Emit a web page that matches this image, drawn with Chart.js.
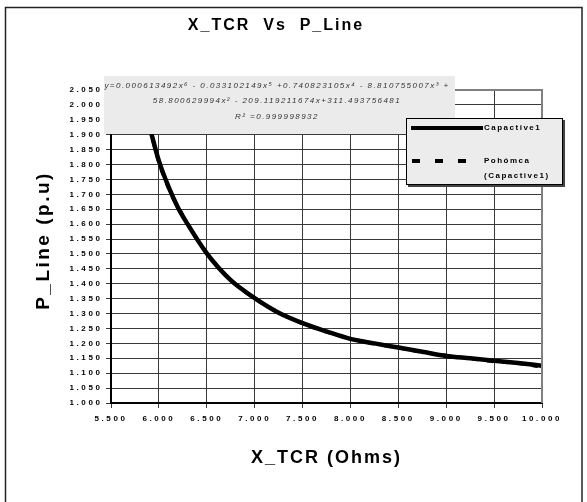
<!DOCTYPE html>
<html>
<head>
<meta charset="utf-8">
<script src="https://cdn.jsdelivr.net/npm/chart.js@4.4.1/dist/chart.umd.min.js"></script>
<style>
html,body{margin:0;padding:0;background:#fff;overflow:hidden}
#wrap{position:absolute;left:0;top:0;width:587px;height:502px}
</style>
</head>
<body>
<div id="wrap"><canvas id="c" width="587" height="502"></canvas></div>
<script>
// ---- data ----
const xTcr = [5.9, 6.0, 6.1, 6.2, 6.3, 6.5, 6.75, 7.0, 7.25, 7.5, 7.75, 8.0, 8.25, 8.5, 8.75, 9.0, 9.25, 9.5, 9.75, 10.0];
const capactive1 = [1.93, 1.812, 1.726, 1.655, 1.600, 1.502, 1.412, 1.352, 1.303, 1.268, 1.240, 1.215, 1.200, 1.186, 1.172, 1.158, 1.150, 1.142, 1.134, 1.125];
const polyTrend  = [1.93, 1.808, 1.722, 1.658, 1.601, 1.503, 1.413, 1.351, 1.304, 1.267, 1.239, 1.216, 1.199, 1.185, 1.171, 1.159, 1.149, 1.139, 1.133, 1.121];
const seriesNames = ['Capactive1', 'Pohómca (Capactive1)'];
const legendLines = [['Capactive1'], ['Pohómca', '(Capactive1)']];
const chartTitle = 'X_TCR  Vs  P_Line';
const xAxisTitle = 'X_TCR (Ohms)';
const yAxisTitle = 'P_Line (p.u)';
const trendEquation = [
  'y=0.000613492x\u2076 - 0.033102149x\u2075 +0.740823105x\u2074 - 8.810755007x\u00B3 +',
  '58.800629994x\u00B2 - 209.119211674x+311.493756481',
  'R\u00B2 =0.999998932'
];
const xMin = 5.5, xMax = 10, xStep = 0.5;
const yMin = 1.0, yMax = 2.05, yStep = 0.05;

const FONT = "'Liberation Sans', Arial, sans-serif";

function pts(ys){ return xTcr.map((x,i)=>({x:x, y:ys[i]})); }

const decor = {
  id: 'decor',
  beforeDraw(chart){
    const ctx = chart.ctx;
    // outer frame
    ctx.save();
    ctx.strokeStyle = '#222';
    ctx.lineWidth = 1.5;
    ctx.strokeRect(5.5, 7.5, 576.5, 520);
    ctx.restore();
    // letter spacing for texts drawn by the library
    const sx = chart.scales.x, sy = chart.scales.y;
    [[sx, '2.6px', '2px', 0], [sy, '2.6px', '2.5px', -6]].forEach(([s, ls, ts, shift])=>{
      if (s._patched) return;
      s._patched = true;
      const dl = s.drawLabels, dt = s.drawTitle;
      s.drawLabels = function(a){ const c=this.ctx; c.save(); c.letterSpacing=ls; dl.call(this,a); c.restore(); };
      s.drawTitle = function(a){ const c=this.ctx; c.save(); c.translate(0, shift); c.letterSpacing=ts; dt.call(this,a); c.restore(); };
    });
    const tb = chart.titleBlock;
    if (tb && !tb._patched){
      tb._patched = true;
      const d = tb.draw;
      tb.draw = function(a){ const c=this.ctx; c.save(); c.letterSpacing='2px'; d.call(this,a); c.restore(); };
    }
  },
  afterDraw(chart){
    const ctx = chart.ctx;
    const a = chart.chartArea;
    ctx.save();
    // grey top / right border of plot area
    ctx.strokeStyle = '#808080';
    ctx.lineWidth = 2;
    ctx.beginPath();
    ctx.moveTo(a.left, a.top); ctx.lineTo(a.right, a.top); ctx.lineTo(a.right, a.bottom);
    ctx.stroke();

    // equation box
    ctx.fillStyle = '#ebebeb';
    ctx.fillRect(104, 76, 351, 58);
    ctx.fillStyle = '#333';
    ctx.font = 'italic 8px ' + FONT;
    ctx.letterSpacing = '1.45px';
    ctx.textAlign = 'center';
    ctx.textBaseline = 'middle';
    const ey = [86, 101, 117];
    trendEquation.forEach((t,i)=>ctx.fillText(t, 277, ey[i]));

    // legend box
    ctx.letterSpacing = '0px';
    ctx.fillStyle = '#444';
    ctx.fillRect(408, 120, 157, 67);
    ctx.fillStyle = '#ececec';
    ctx.fillRect(406, 118, 157, 67);
    ctx.strokeStyle = '#000';
    ctx.lineWidth = 1;
    ctx.strokeRect(406.5, 118.5, 156, 66);

    const ds = chart.data.datasets;
    // solid sample
    ctx.strokeStyle = ds[0].borderColor;
    ctx.lineWidth = 4;
    ctx.setLineDash([]);
    ctx.beginPath(); ctx.moveTo(411, 128); ctx.lineTo(483, 128); ctx.stroke();
    // dashed sample
    ctx.strokeStyle = ds[1].borderColor;
    ctx.lineWidth = 4;
    ctx.setLineDash([8, 15]);
    ctx.beginPath(); ctx.moveTo(412, 161); ctx.lineTo(470, 161); ctx.stroke();
    ctx.setLineDash([]);

    ctx.fillStyle = '#000';
    ctx.font = 'bold 8px ' + FONT;
    ctx.letterSpacing = '1.5px';
    ctx.textAlign = 'left';
    ctx.fillText(legendLines[0][0], 484, 128);
    ctx.fillText(legendLines[1][0], 484, 161);
    ctx.fillText(legendLines[1][1], 484, 176);
    ctx.restore();
  }
};

const tickFont = {family: FONT, size: 8, weight: 'bold'};

new Chart(document.getElementById('c'), {
  type: 'line',
  data: {
    datasets: [
      {label: seriesNames[0], data: pts(capactive1), borderColor: '#000', borderWidth: 4.5,
       pointRadius: 0, cubicInterpolationMode: 'monotone', fill: false, order: 2},
      {label: seriesNames[1], data: pts(polyTrend), borderColor: '#000', borderWidth: 3.5,
       borderDash: [6, 9], pointRadius: 0, cubicInterpolationMode: 'monotone', fill: false, order: 1}
    ]
  },
  options: {
    responsive: false,
    animation: false,
    devicePixelRatio: 1,
    layout: {padding: {left: 10, right: 45, top: 0, bottom: 0}},
    plugins: {
      legend: {display: false},
      tooltip: {enabled: false},
      title: {display: true, text: chartTitle, color: '#000',
              font: {family: FONT, size: 16, weight: 'bold'},
              padding: {top: 16.4, bottom: 54.4}}
    },
    scales: {
      x: {
        type: 'linear', min: xMin, max: xMax,
        ticks: {stepSize: xStep, autoSkip: false, maxRotation: 0, padding: 6,
                color: '#000', font: tickFont, callback: v => v.toFixed(3)},
        grid: {color: '#3a3a3a', lineWidth: 1, tickLength: 5},
        border: {color: '#000', width: 2},
        title: {display: true, text: xAxisTitle, color: '#000',
                font: {family: FONT, size: 18, weight: 'bold'}, padding: {top: 0, bottom: 33}},
        afterFit: s => { s.height = 99; }
      },
      y: {
        min: yMin, max: yMax,
        ticks: {stepSize: yStep, autoSkip: false, padding: 3.5,
                color: '#000', font: tickFont, callback: v => v.toFixed(3)},
        grid: {color: '#3a3a3a', lineWidth: 1, tickLength: 5},
        border: {color: '#000', width: 2},
        title: {display: true, text: yAxisTitle, color: '#000',
                font: {family: FONT, size: 19, weight: 'bold'}, padding: {top: 22, bottom: 0}},
        afterFit: s => { s.width = 101; }
      }
    }
  },
  plugins: [decor]
});
</script>
</body>
</html>
